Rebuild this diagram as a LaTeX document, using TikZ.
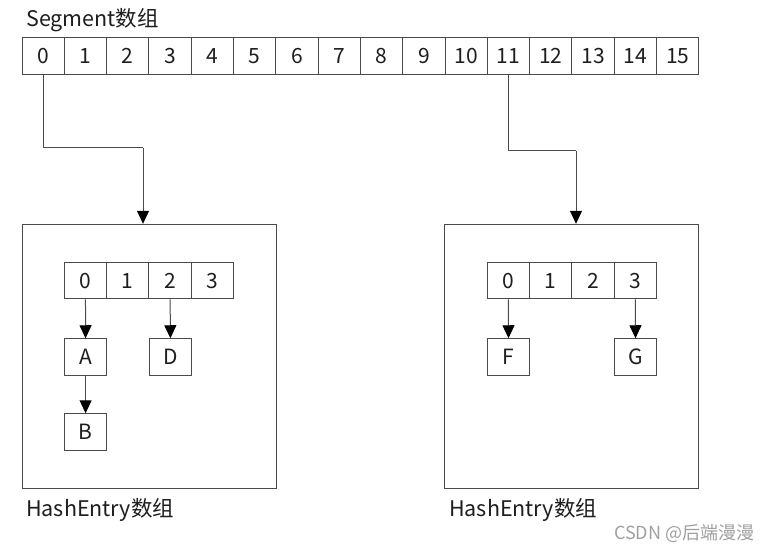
\documentclass[tikz,border=0pt]{standalone}
\usepackage{fontspec}
\setmainfont{Noto Sans CJK SC}
\usetikzlibrary{arrows.meta,positioning}
\definecolor{ln}{HTML}{4A4A4A}
\definecolor{tx}{HTML}{1E1E1E}
\definecolor{wm}{HTML}{A0A0A0}
\tikzset{
  cell/.style={draw=ln, line width=1pt, minimum width=42.3pt, minimum height=36.5pt, inner sep=0pt, text=tx, font=\fontsize{21}{24}\selectfont},
  bigbox/.style={draw=ln, line width=1pt, minimum width=254pt, minimum height=264pt, inner sep=0pt},
  lbl/.style={anchor=west, text=tx, inner sep=0pt, font=\fontsize{21.5}{24}\selectfont},
  arr/.style={draw=ln, line width=1pt, -{Triangle[length=13pt,width=12pt,color=black]}},
  plain/.style={draw=ln, line width=1pt}
}
\begin{document}
\begin{tikzpicture}[x=1pt,y=-1pt]
\useasboundingbox[fill=white] (0,0) rectangle (773,553);
% Segment array
\node[lbl] (seglbl) at (26,20) {Segment数组};
\foreach \i in {0,...,15} {
  \node[cell] (s\i) at ({22+21.15+42.3*\i},55.8) {\i};
}
% boxes
\node[bigbox] (boxL) at (149,356.3) {};
\node[bigbox] (boxR) at (571.6,356.3) {};
\node[lbl] (hl) at (26,510) {HashEntry数组};
\node[lbl] (hr) at (449,510) {HashEntry数组};
% inner arrays
\foreach \i in {0,...,3} {
  \node[cell] (l\i) at ({64.3+21.15+42.3*\i},280.6) {\i};
  \node[cell] (r\i) at ({487.3+21.15+42.3*\i},280.6) {\i};
}
\node[cell] (A) at (85.6,357) {A};
\node[cell] (D) at (170.5,357) {D};
\node[cell] (B) at (85.6,432) {B};
\node[cell] (F) at (508.5,357) {F};
\node[cell] (G) at (635.5,357) {G};
% connectors
\coordinate (kL) at (143,148);
\coordinate (kR) at (576,151);
\draw[plain] (s0.south) |- (kL);
\draw[arr] (kL) -- (kL |- boxL.north);
\draw[plain] (s11.south) |- (kR);
\draw[arr] (kR) -- (kR |- boxR.north);
\draw[arr] (l0) -- (A);
\draw[arr] (l2) -- (D);
\draw[arr] (A) -- (B);
\draw[arr] (r0) -- (F);
\draw[arr] (r3) -- (G);
% watermark
\node[anchor=west, text=wm, inner sep=0pt, font=\fontsize{18}{21}\selectfont] (wmk) at (614,534) {CSDN @后端漫漫};
\end{tikzpicture}
\end{document}
